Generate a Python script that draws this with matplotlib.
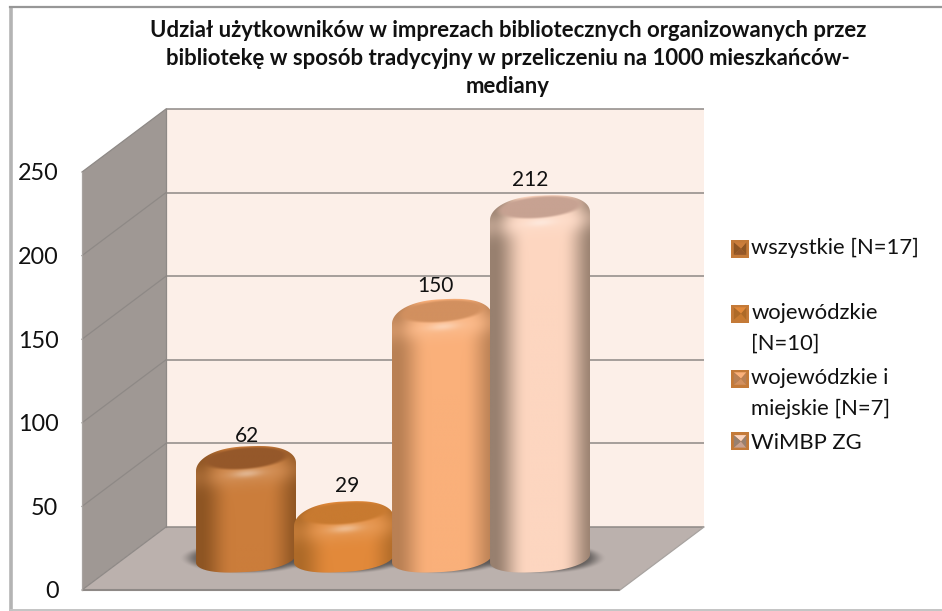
import numpy as np
import matplotlib
matplotlib.use("Agg")
import matplotlib.pyplot as plt
from matplotlib.colors import to_rgb
from matplotlib.legend_handler import HandlerBase
from matplotlib.patches import Patch, PathPatch, Polygon
from matplotlib.path import Path

# ---- data ----
title = ("Udział użytkowników w imprezach bibliotecznych organizowanych przez\n"
         "bibliotekę w sposób tradycyjny w przeliczeniu na 1000 mieszkańców-\n"
         "mediany")
series = ["wszystkie [N=17]\n", "wojewódzkie\n[N=10]", "wojewódzkie i\nmiejskie [N=7]", "WiMBP ZG"]
values = [62, 29, 150, 212]
y_ticks = [0, 50, 100, 150, 200, 250]

# ---- style ----
center_cols = ["#CB7D3B", "#E2893A", "#FAB07A", "#FDD6C0"]
edge_cols = ["#8E5523", "#AE6A28", "#B98054", "#98806F"]
face_cols = ["#95582A", "#C87A30", "#D2905F", "#C7A292"]
label_dx = [0.01, 0.03, -0.07, -0.10]
label_dpx = [12, 17, 15, 17]

W, H = 942, 611
FRONT_L, FRONT_R, FRONT_B, FRONT_T = 82, 620, 590, 172
PX_X, PX_V = 98.0, (FRONT_B - FRONT_T) / 250
DEPTH_X, DEPTH_V = 84 / PX_X, 63 / PX_V
XMIN, XMAX = 1.5 - (FRONT_R - FRONT_L) / PX_X / 2, 1.5 + (FRONT_R - FRONT_L) / PX_X / 2

plt.rcParams["font.family"] = ["Lato", "DejaVu Sans"]
fig = plt.figure(figsize=(W / 100, H / 100), dpi=100, facecolor="white")
ax = fig.add_axes([FRONT_L / W, 1 - FRONT_B / H, (FRONT_R - FRONT_L) / W, (FRONT_B - FRONT_T) / H])
ax.patch.set_visible(False)
for s in ax.spines.values():
    s.set_visible(False)
ax.set_xticks([])
ax.set_yticks(y_ticks)
ax.tick_params(axis="y", length=0, pad=17, labelsize=16.8, labelcolor="#111111")

# ---- frame ----
fig.add_artist(plt.Line2D([11 / W, 11 / W], [1 - 8 / H, 0], color="#B4B4B4", lw=2.6))
fig.add_artist(plt.Line2D([10 / W, 1], [1 - 7 / H, 1 - 7 / H], color="#979797", lw=1.6))
fig.add_artist(plt.Line2D([11 / W, 1], [1 - 610 / H, 1 - 610 / H], color="#C4C4C4", lw=1.4))

# ---- walls ----
x0, x1 = XMIN, XMAX
top = max(y_ticks)
ax.add_patch(Polygon([(x0, 0), (x0, top), (x0 + DEPTH_X, top + DEPTH_V), (x0 + DEPTH_X, DEPTH_V)],
                     fc="#9F9894", ec="none", clip_on=False, zorder=1))
ax.add_patch(Polygon([(x0 + DEPTH_X, DEPTH_V), (x0 + DEPTH_X, top + DEPTH_V), (x1 + DEPTH_X, top + DEPTH_V), (x1 + DEPTH_X, DEPTH_V)],
                     fc="#FCEFE8", ec="none", clip_on=False, zorder=1))
ax.add_patch(Polygon([(x0, 0), (x1, 0), (x1 + DEPTH_X, DEPTH_V), (x0 + DEPTH_X, DEPTH_V)],
                     fc="#BBB1AD", ec="none", clip_on=False, zorder=1))
gc = "#8E8986"
for v in y_ticks:
    ax.plot([x0 + DEPTH_X, x1 + DEPTH_X], [v + DEPTH_V] * 2, color=gc, lw=1.1, clip_on=False, zorder=2,
            solid_capstyle="butt")
    if v > 0:
        ax.plot([x0, x0 + DEPTH_X], [v, v + DEPTH_V], color=gc, lw=0.9, clip_on=False, zorder=2)
ax.plot([x0, x0 + DEPTH_X], [0, DEPTH_V], color=gc, lw=0.9, clip_on=False, zorder=2)
ax.plot([x0, x1], [0, 0], color=gc, lw=1.5, clip_on=False, zorder=2, solid_capstyle="butt")
ax.plot([x1, x1 + DEPTH_X], [0, DEPTH_V], color="#A8A3A0", lw=0.9, clip_on=False, zorder=2)
ax.plot([x0, x0], [0, top], color="#A8A3A0", lw=0.9, clip_on=False, zorder=2)
ax.plot([x0 + DEPTH_X] * 2, [DEPTH_V, top + DEPTH_V], color=gc, lw=0.9, clip_on=False, zorder=2)

# ---- cylinders ----
HALF_W = 50 / PX_X      # half width, x units
B_PX = 13.5             # ellipse half height, pixels
S_PX = 4.0              # ellipse tilt, pixels
CAP_DROP_PX = 5.0       # bevelled cap sits a little under the nominal top
DOME_PX = 7.0           # extra height of the rounded shoulders


def spow(a, e):
    return np.sign(a) * np.abs(a) ** e


def smooth(a, b, x):
    t = np.clip((x - a) / (b - a), 0, 1)
    return t * t * (3 - 2 * t)


def draw_bar(i, val):
    cx = i + DEPTH_X / 2
    base = DEPTH_V / 2
    vtop = base + val - CAP_DROP_PX / PX_V
    b, s = B_PX / PX_V, S_PX / PX_V
    dome = DOME_PX / PX_V
    # silhouette
    t1 = np.linspace(0, np.pi, 80)
    t2 = np.linspace(np.pi, 2 * np.pi, 80)
    xs = np.r_[cx + HALF_W * spow(np.cos(t1), 0.8), cx + HALF_W * spow(np.cos(t2), 0.85)]
    ys = np.r_[vtop - dome + (b + dome) * np.sin(t1) + s * np.cos(t1), base + b * np.sin(t2) + s * np.cos(t2)]
    path = Path(np.c_[xs, ys], closed=False)

    # soft floor shadow
    sx = np.linspace(cx - HALF_W - 0.2, cx + HALF_W + 0.2, 120)
    sy = np.linspace(base - 2.2 * b, base + 2.2 * b, 60)
    SX, SY = np.meshgrid(sx, sy)
    rr = np.sqrt(((SX - cx) / (HALF_W + 0.14)) ** 2 + ((SY - base) / (b * 1.15)) ** 2)
    sh = np.zeros(SX.shape + (4,))
    sh[..., :3] = to_rgb("#55514F")
    sh[..., 3] = 0.85 * (1 - smooth(0.72, 1.05, rr))
    ax.imshow(sh, extent=(sx[0], sx[-1], sy[0], sy[-1]), origin="lower", aspect="auto",
              zorder=3, interpolation="bilinear")

    # shading
    gx = np.linspace(cx - HALF_W, cx + HALF_W, 220)
    gy = np.linspace(base - 1.2 * b, vtop + 1.3 * b, int((val + 2.5 * b) * PX_V * 2))
    X, Y = np.meshgrid(gx, gy)
    u = (X - cx) / HALF_W
    cen, edg, fac = map(lambda c: np.array(to_rgb(c)), (center_cols[i], edge_cols[i], face_cols[i]))
    g = (1 - smooth(0.3, 1.0, np.abs(u - 0.08)) ** 1.2)[..., None]
    img = edg + (cen - edg) * g
    # coordinates relative to the tilted top ellipse
    vv = (Y - vtop - s * u) / b
    # shoulder: lighter rim right below the front of the cap
    light = cen + (np.array([1, 1, 1]) - cen) * 0.12
    rim = np.exp(-((vv + 1.0) / 0.9) ** 2)[..., None] * (0.35 + 0.65 * g)
    img = img + (light - img) * rim
    # highlight
    hl = np.exp(-(((u - 0.02) / 0.3) ** 2) - ((vv + 1.02) / 0.28) ** 2)[..., None]
    img = img + (cen + (1 - cen) * 0.42 - img) * hl
    # top face
    r = np.sqrt((u / 0.95) ** 2 + ((vv - 0.12) / 0.9) ** 2)
    fm = (1 - smooth(0.74, 1.0, r))[..., None]
    img = img + (fac - img) * fm
    im = ax.imshow(np.clip(img, 0, 1), extent=(gx[0], gx[-1], gy[0], gy[-1]), origin="lower",
                   aspect="auto", zorder=4 + i, interpolation="bilinear")
    clip = PathPatch(path, transform=ax.transData, fc="none", ec="none")
    im.set_clip_path(clip)

    ax.text(cx + label_dx[i], vtop + b + label_dpx[i] / PX_V - 1, str(val), ha="center", va="center",
            fontsize=15, color="#111111", zorder=10)


for i, val in enumerate(values):
    draw_bar(i, val)

ax.set_xlim(XMIN, XMAX)
ax.set_ylim(0, top)

# ---- title ----
fig.text(508 / W, 1 - 58.5 / H, title, ha="center", va="center", fontsize=15.9, fontweight="bold",
         color="#111111", linespacing=1.39)


# ---- legend ----
class Bevel(HandlerBase):
    def create_artists(self, legend, orig, xd, yd, w, h, fs, trans):
        n = orig.get_label().count("\n")
        idx = series.index(orig.get_label())
        sz = 13
        x, y = 0, (h - sz) / 2 + n * 15 * 0.72
        ins = 2
        c, e, f = center_cols[idx], edge_cols[idx], face_cols[idx]
        o = [(x, y), (x + sz, y), (x + sz, y + sz), (x, y + sz)]
        m = (x + sz * 0.55, y + sz / 2)
        i_ = [(x + ins, y + ins), (x + sz - ins, y + ins), (x + sz - ins, y + sz - ins), (x + ins, y + sz - ins)]
        arts = [Polygon(o, fc="#C47A38", ec="none", transform=trans)]
        for a, b, col in [(0, 1, f), (1, 2, e), (2, 3, c), (3, 0, e)]:
            arts.append(Polygon([i_[a], i_[b], m], fc=col, ec="none", transform=trans))
        return arts


handles = [Patch(label=s) for s in series]
leg = fig.legend(handles=handles, loc="upper left", bbox_to_anchor=(731 / W, 1 - 238 / H),
                 frameon=False, fontsize=15.8, handler_map={Patch: Bevel()}, handlelength=0.82,
                 handletextpad=0.1, labelspacing=0.66, borderpad=0, borderaxespad=0)
for t in leg.get_texts():
    t.set_linespacing(1.65)
    t.set_color("#111111")

fig.savefig("out.png", dpi=100)
